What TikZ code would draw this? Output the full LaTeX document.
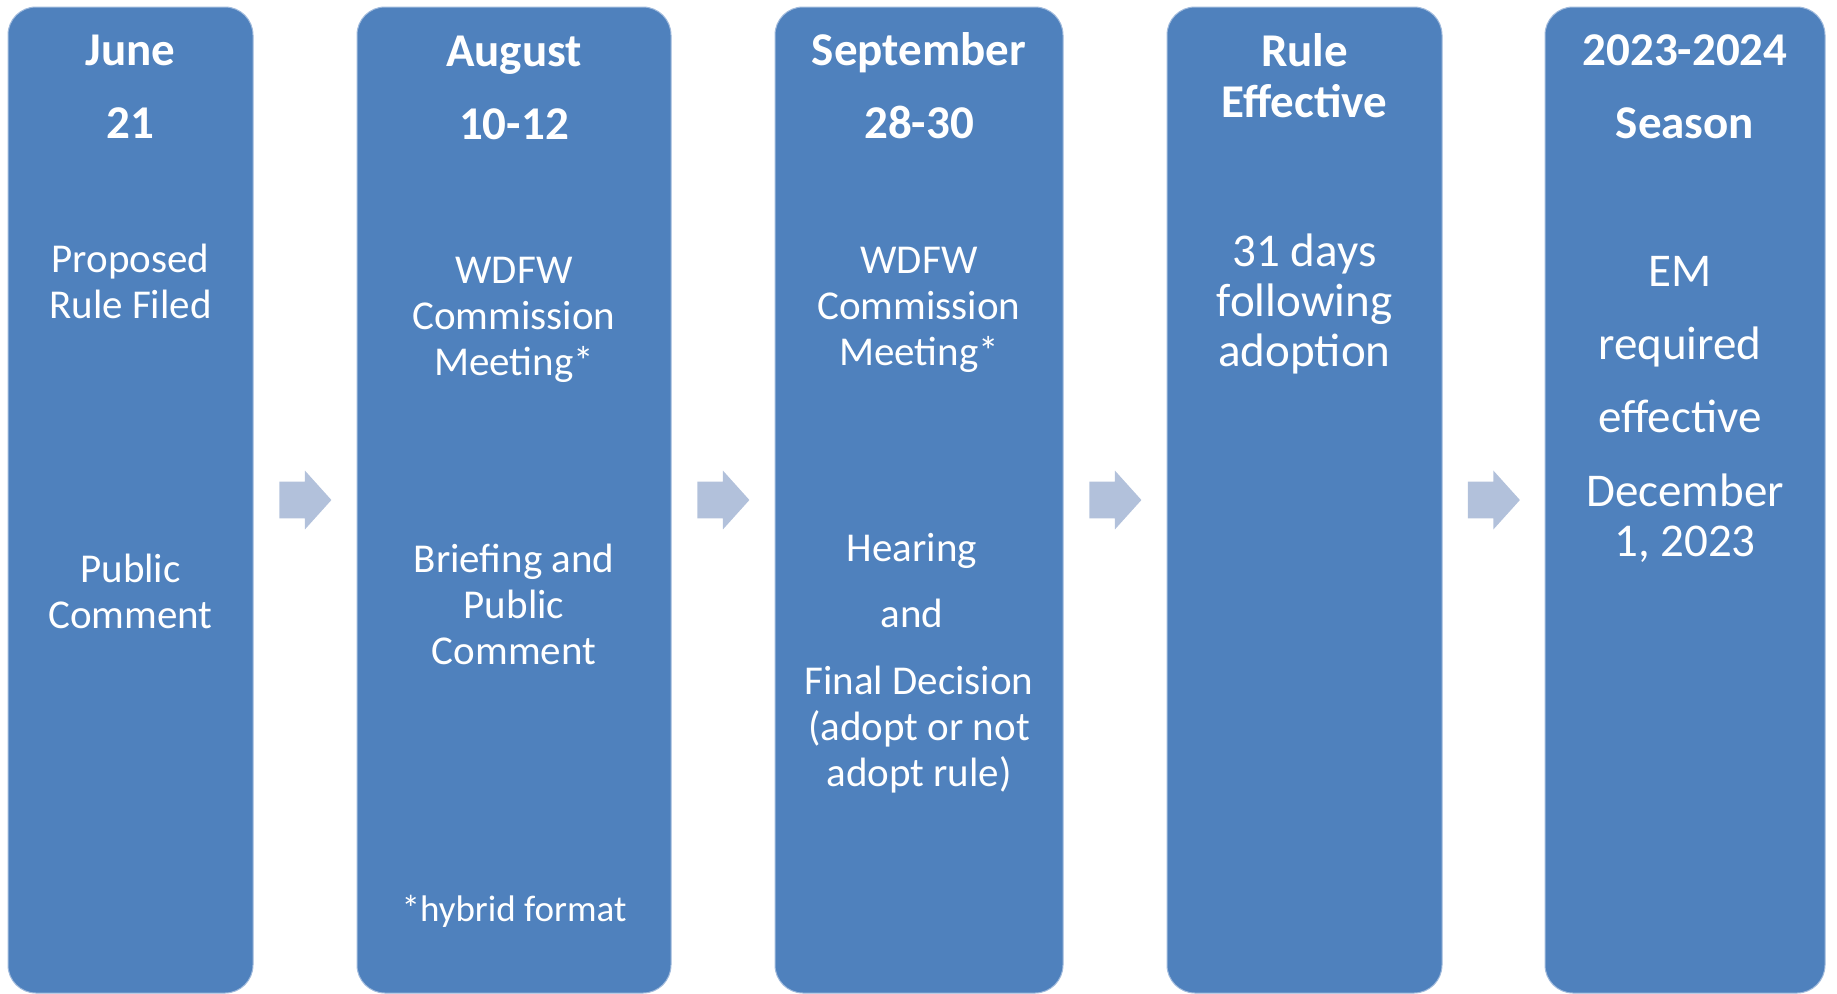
\documentclass[tikz,border=0pt]{standalone}
\usepackage{fontspec}
\setmainfont{Carlito}
\usetikzlibrary{shapes.arrows,calc}
\definecolor{stageblue}{RGB}{79,129,189}
\definecolor{stageedge}{RGB}{160,186,220}
\definecolor{arrowblue}{RGB}{178,193,219}

\begin{document}
\begin{tikzpicture}[x=0.5pt, y=-0.5pt,
    stage/.style={fill=stageblue, draw=stageedge, line width=0.5pt, rounded corners=14pt,
      minimum height=493pt, inner sep=0pt},
    steparrow/.style={single arrow, fill=arrowblue, inner sep=0pt, text height=18pt,
      text depth=0pt, minimum height=26pt, single arrow head extend=5.5pt,
      single arrow tip angle=96, anchor=tail},
    heading/.style={white, font=\bfseries\fontsize{23.5}{36.5}\selectfont, align=center, anchor=base},
    body/.style={white, font=\fontsize{20.5}{23}\selectfont, align=center, anchor=base},
    bigbody/.style={white, font=\fontsize{23.5}{25}\selectfont, align=center, anchor=base}]
    \useasboundingbox (0,0) rectangle (1837,993);

    % Spalten
    \node[stage, minimum width=122.5pt] (june) at (130.5,500) {};
    \node[stage, minimum width=157pt] (aug) at (514,500) {};
    \node[stage, minimum width=144pt] (sep) at (919,500) {};
    \node[stage, minimum width=137.5pt] (rule) at (1304.5,500) {};
    \node[stage, minimum width=140pt] (season) at (1685,500) {};

    % Pfeile (Anker am Ende, halbe Laenge vor der Mitte)
    \node[steparrow] (a1) at ($(june.east)!0.5!(aug.west)+(-26,0)$) {};
    \node[steparrow] (a2) at ($(aug.east)!0.5!(sep.west)+(-26,0)$) {};
    \node[steparrow] (a3) at ($(sep.east)!0.5!(rule.west)+(-26,0)$) {};
    \node[steparrow] (a4) at ($(rule.east)!0.5!(season.west)+(-26,0)$) {};

    % June (Anker = letzte Zeile)
    \node[heading] (juneH) at (130.5,138) {June\\21};
    \node[body] (juneA) at (130.5,318) {Proposed\\Rule Filed};
    \node[body] (juneB) at (130.5,628) {Public\\Comment};

    % August
    \node[heading] (augH) at (514,139) {August\\10-12};
    \node[body] (augA) at (514,375) {WDFW\\Commission\\Meeting*};
    \node[body] (augB) at (514,664) {Briefing and\\Public\\Comment};
    \node[white, font=\fontsize{18.5}{22}\selectfont, anchor=base] (augN) at (514,921) {*hybrid format};

    % September
    \node[heading] (sepH) at (919,138) {September\\28-30};
    \node[body] (sepA) at (919,365) {WDFW\\Commission\\Meeting*};
    \node[body] (sepB) at (912,627) {Hearing\\[10pt]and};
    \node[body] (sepC) at (919,786) {Final Decision\\(adopt or not\\adopt rule)};

    % Rule Effective
    \node[heading, font=\bfseries\fontsize{23.5}{25.5}\selectfont] (ruleH) at (1304.5,117) {Rule\\Effective};
    \node[bigbody] (ruleA) at (1304.5,366) {31 days\\following\\adoption};

    % Season
    \node[heading] (seasonH) at (1685,138) {2023-2024\\Season};
    \node[bigbody, font=\fontsize{23.5}{36.5}\selectfont] (seasonA) at (1680,432) {EM\\required\\effective};
    \node[bigbody] (seasonB) at (1685,556) {December\\1, 2023};
\end{tikzpicture}
\end{document}
